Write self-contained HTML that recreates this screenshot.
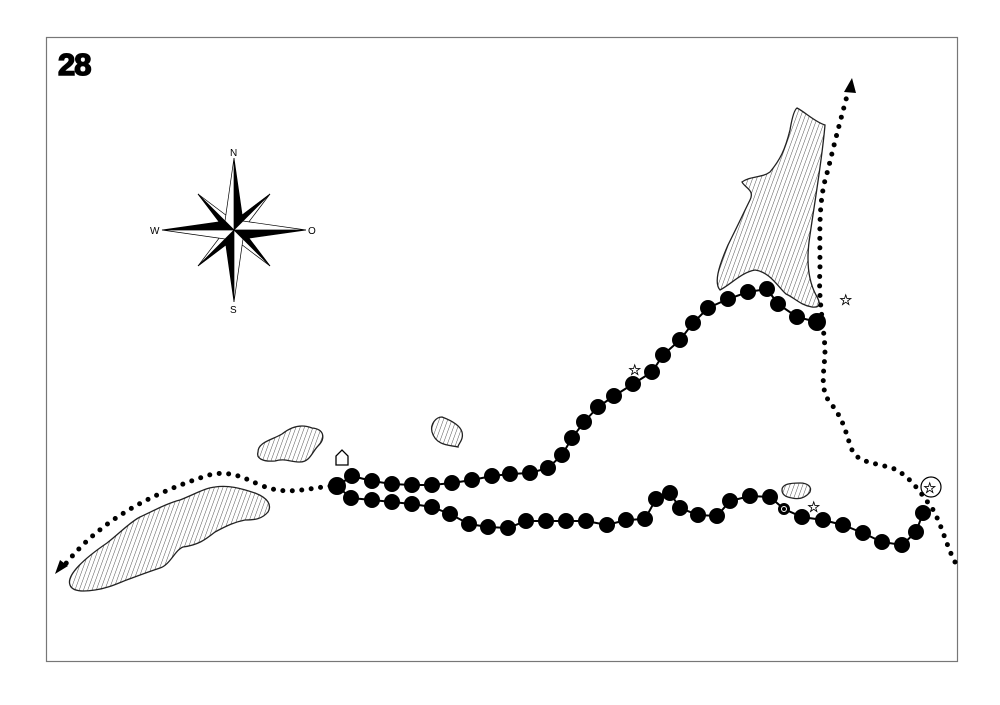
<!DOCTYPE html>
<html><head><meta charset="utf-8"><style>
html,body{margin:0;padding:0;background:#fff;width:1000px;height:705px;overflow:hidden}
svg{display:block}
text{font-family:"Liberation Sans",sans-serif}
</style></head><body>
<svg width="1000" height="705" viewBox="0 0 1000 705" xmlns="http://www.w3.org/2000/svg">
<defs>
<pattern id="h" width="4" height="4" patternUnits="userSpaceOnUse" patternTransform="rotate(20)">
<rect width="4" height="4" fill="#fff"/><line x1="0" y1="0" x2="0" y2="4" stroke="#555" stroke-width="1"/>
</pattern>
</defs>
<rect x="46.5" y="37.5" width="911" height="624" fill="none" stroke="#777" stroke-width="1.2"/>
<text x="58" y="75" font-size="31" font-weight="bold" fill="#000" stroke="#000" stroke-width="1.5" style="letter-spacing:-1px">28</text>

<!-- compass -->
<g transform="translate(234,230)">
<g stroke="#000" stroke-width="0.7">
<polygon points="36,-36 3,-11 11,-3" fill="#fff"/><polygon points="36,-36 3,-11 0,0" fill="#000"/>
<polygon points="-36,36 -3,11 -11,3" fill="#fff"/><polygon points="-36,36 -3,11 0,0" fill="#000"/>
<polygon points="-36,-36 -11,-3 -3,-11" fill="#fff"/><polygon points="-36,-36 -11,-3 0,0" fill="#000"/>
<polygon points="36,36 11,3 3,11" fill="#fff"/><polygon points="36,36 11,3 0,0" fill="#000"/>
<polygon points="0,-72 9,-9 0,0" fill="#000"/><polygon points="0,-72 -9,-9 0,0" fill="#fff"/>
<polygon points="0,72 -9,9 0,0" fill="#000"/><polygon points="0,72 9,9 0,0" fill="#fff"/>
<polygon points="-72,0 -9,-9 0,0" fill="#000"/><polygon points="-72,0 -9,9 0,0" fill="#fff"/>
<polygon points="72,0 9,9 0,0" fill="#000"/><polygon points="72,0 9,-9 0,0" fill="#fff"/>
</g>
<text x="-4" y="-74" font-size="10">N</text>
<text x="-4" y="83" font-size="10">S</text>
<text x="-84" y="4" font-size="10">W</text>
<text x="74" y="4" font-size="10">O</text>
</g>

<!-- islands -->
<g fill="url(#h)" stroke="#222" stroke-width="1.3">
<path d="M70,585 C66,575 85,558 107,543 C120,533 130,522 140,517 C155,510 168,503 180,500 C195,494 205,488 215,487 C228,485 240,488 255,493 C268,498 272,505 268,512 C262,519 255,520 245,520 C235,522 228,525 215,532 C205,540 198,545 183,547 C175,550 170,565 160,568 C148,572 140,575 132,578 C120,582 110,588 95,590 C82,592 72,591 70,585 Z"/>
<path d="M258,452 C258,442 272,440 282,434 C292,426 302,424 312,428 C324,429 326,438 318,446 C312,452 310,462 300,462 C290,462 285,458 275,461 C262,462 256,458 258,452 Z"/>
<path d="M432,432 C430,424 436,417 442,417 C450,420 460,425 462,432 C464,440 458,444 458,447 C450,445 436,446 432,432 Z"/>
<path d="M782,490 C782,484 790,483 800,483 C808,483 812,487 810,492 C806,497 800,500 792,498 C785,497 782,494 782,490 Z"/>
<path d="M797,108 C805,112 815,122 825,125 C822,160 815,200 810,235 C806,260 808,280 816,295 C820,302 822,308 812,307 C800,305 795,298 786,294 C778,287 770,272 755,270 C742,272 730,285 720,290 C714,283 718,268 728,245 C738,225 745,210 750,200 C755,190 745,188 742,182 C750,176 762,178 770,172 C780,160 785,150 790,130 C792,118 794,110 797,108 Z"/>
</g>

<!-- dotted routes -->
<g fill="none" stroke="#000" stroke-width="5" stroke-linecap="round" stroke-dasharray="0 9.5">
<path d="M330,486 C300,490 285,495 260,485 C240,476 225,468 200,478 C150,495 100,520 64,566"/>
<path d="M955,562 C946,545 942,525 932,508 C922,495 910,475 892,468 C870,462 858,462 852,450 C846,435 845,422 832,405 C818,390 825,370 825,350 C824,325 818,300 820,270 C820,230 818,200 828,170 C835,140 842,115 848,92"/>
</g>
<polygon points="55,574 68,566 60,560" fill="#000"/>
<polygon points="852,78 844,92 856,93" fill="#000"/>

<!-- route lines -->
<g fill="none" stroke="#000" stroke-width="2">
<polyline points="337,486 352,476 372,481 392,484 412,485 432,485 452,483 472,480 492,476 510,474 530,473 548,468 562,455 572,438 584,422 598,407 614,396 633,384 652,372 663,355 680,340 693,323 708,308 728,299 748,292 767,289 778,304 797,317 817,322"/>
<polyline points="337,486 351,498 372,500 392,502 412,504 432,507 450,514 469,524 488,527 508,528 526,521 546,521 566,521 586,521 607,525 626,520 645,519 656,499 670,493 680,508 698,515 717,516 730,501 750,496 770,497 784,509 802,517 823,520 843,525 863,533 882,542 902,545 916,532 923,513"/>
</g>
<g fill="#000">
<circle cx="337" cy="486" r="9"/>
<circle cx="352" cy="476" r="8"/><circle cx="372" cy="481" r="8"/><circle cx="392" cy="484" r="8"/><circle cx="412" cy="485" r="8"/><circle cx="432" cy="485" r="8"/><circle cx="452" cy="483" r="8"/><circle cx="472" cy="480" r="8"/><circle cx="492" cy="476" r="8"/><circle cx="510" cy="474" r="8"/><circle cx="530" cy="473" r="8"/><circle cx="548" cy="468" r="8"/><circle cx="562" cy="455" r="8"/><circle cx="572" cy="438" r="8"/><circle cx="584" cy="422" r="8"/><circle cx="598" cy="407" r="8"/><circle cx="614" cy="396" r="8"/><circle cx="633" cy="384" r="8"/><circle cx="652" cy="372" r="8"/><circle cx="663" cy="355" r="8"/><circle cx="680" cy="340" r="8"/><circle cx="693" cy="323" r="8"/><circle cx="708" cy="308" r="8"/><circle cx="728" cy="299" r="8"/><circle cx="748" cy="292" r="8"/><circle cx="767" cy="289" r="8"/><circle cx="778" cy="304" r="8"/><circle cx="797" cy="317" r="8"/><circle cx="817" cy="322" r="9"/>
<circle cx="351" cy="498" r="8"/><circle cx="372" cy="500" r="8"/><circle cx="392" cy="502" r="8"/><circle cx="412" cy="504" r="8"/><circle cx="432" cy="507" r="8"/><circle cx="450" cy="514" r="8"/><circle cx="469" cy="524" r="8"/><circle cx="488" cy="527" r="8"/><circle cx="508" cy="528" r="8"/><circle cx="526" cy="521" r="8"/><circle cx="546" cy="521" r="8"/><circle cx="566" cy="521" r="8"/><circle cx="586" cy="521" r="8"/><circle cx="607" cy="525" r="8"/><circle cx="626" cy="520" r="8"/><circle cx="645" cy="519" r="8"/><circle cx="656" cy="499" r="8"/><circle cx="670" cy="493" r="8"/><circle cx="680" cy="508" r="8"/><circle cx="698" cy="515" r="8"/><circle cx="717" cy="516" r="8"/><circle cx="730" cy="501" r="8"/><circle cx="750" cy="496" r="8"/><circle cx="770" cy="497" r="8"/><circle cx="802" cy="517" r="8"/><circle cx="823" cy="520" r="8"/><circle cx="843" cy="525" r="8"/><circle cx="863" cy="533" r="8"/><circle cx="882" cy="542" r="8"/><circle cx="902" cy="545" r="8"/><circle cx="916" cy="532" r="8"/><circle cx="923" cy="513" r="8"/>
<circle cx="784" cy="509" r="6"/>
</g>
<circle cx="784" cy="509" r="2.5" fill="none" stroke="#fff" stroke-width="1"/>

<!-- house -->
<polygon points="336,465 336,456 342,450 348,456 348,465" fill="#fff" stroke="#000" stroke-width="1.3"/>
<!-- stars -->
<g font-size="15" fill="#000" stroke="#000" stroke-width="0.4">
<text x="628" y="375">☆</text>
<text x="839" y="305">☆</text>
<text x="807" y="512">☆</text>
<text x="923" y="493">☆</text>
</g>
<circle cx="931" cy="487" r="10" fill="none" stroke="#000" stroke-width="1.2"/>
</svg>
</body></html>
